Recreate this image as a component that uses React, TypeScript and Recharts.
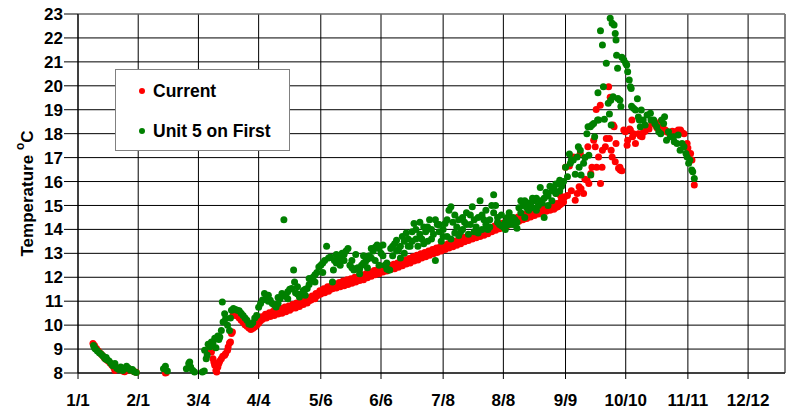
import { ScatterChart, Scatter, XAxis, YAxis, CartesianGrid, Legend, ReferenceLine } from 'recharts';

// x ticks: day of year, labels as printed on the axis
const tickDays = [0, 31, 62, 93, 125, 156, 188, 219, 251, 282, 314, 345];
const tickLabels = ['1/1', '2/1', '3/4', '4/4', '5/6', '6/6', '7/8', '8/8', '9/9', '10/10', '11/11', '12/12'];
const tempTicks = [8, 9, 10, 11, 12, 13, 14, 15, 16, 17, 18, 19, 20, 21, 22, 23];

// "Current" readings  [day, °C]
const currentWinter = [
  [7.7, 9.23], [8.5, 9.15], [9.5, 9.02], [10.5, 8.92], [11.5, 8.82], [12.5, 8.74], [13.5, 8.64], [14.5, 8.56],
  [15.5, 8.5], [16.5, 8.42], [17.5, 8.32], [18.5, 8.22], [19, 8.1], [20, 8.15], [21, 8.2], [22, 8.16], [23, 8.08],
  [24, 8.05], [25, 8.22], [26, 8.18], [27, 8.1], [28, 8.12], [29, 8.05], [30, 8.03], [45, 8.0], [45.5, 8.02],
];

const currentSpring = [
  [67, 8.88], [67.8, 9.09], [68.7, 8.88], [69.5, 8.6], [70, 8.45], [70.4, 8.32], [71, 8.1], [71.4, 8.04], [72, 8.25],
  [72.5, 8.4], [73, 8.5], [73.8, 8.6], [74.5, 8.7], [75.5, 8.74], [76, 8.81], [77, 8.95], [77.3, 9.09], [78, 9.25],
  [78.5, 9.3], [79, 9.65], [79.5, 9.71], [80, 10.45], [81, 10.4], [82, 10.38], [83, 10.3], [84, 10.2], [85, 10.12],
  [86, 10.02], [87, 9.95], [88, 9.88], [89, 9.82], [90, 9.86], [91, 9.92], [92, 10.0], [93, 10.08], [94, 10.18],
  [95, 10.25], [96, 10.32], [97, 10.3], [98, 10.4], [99, 10.36], [100, 10.44], [101, 10.4], [102, 10.5], [103, 10.46],
  [104, 10.55], [105, 10.5], [106, 10.6], [107, 10.56], [108, 10.65], [109, 10.62], [110, 10.7], [111, 10.75],
  [112, 10.72], [113, 10.82], [114, 10.78], [115, 10.88], [116, 10.86], [117, 10.95], [118, 10.92], [119, 11.02],
  [120, 11.05], [121, 11.12], [122, 11.1], [123, 11.22], [124, 11.28], [125, 11.3], [126, 11.38], [127, 11.35],
  [128, 11.45], [129, 11.42], [130, 11.5],
];

const currentSummer = [
  [131, 11.52], [132, 11.58], [133, 11.55], [134, 11.62], [135, 11.6], [136, 11.68], [137, 11.65], [138, 11.72],
  [139, 11.7], [140, 11.78], [141, 11.75], [142, 11.82], [143, 11.8], [144, 11.88], [145, 11.86], [146, 11.92],
  [147, 11.9], [148, 12.0], [149, 11.98], [150, 12.06], [151, 12.04], [152, 12.12], [153, 12.1], [154, 12.18],
  [155, 12.15], [156, 12.24], [157, 12.22], [158, 12.28], [159, 12.26], [160, 12.34], [161, 12.32], [162, 12.38],
  [163, 12.36], [164, 12.45], [165, 12.42], [166, 12.5], [167, 12.48], [168, 12.56], [169, 12.55], [170, 12.62],
  [171, 12.6], [172, 12.7], [173, 12.68], [174, 12.75], [175, 12.72], [176, 12.82], [177, 12.8], [178, 12.88],
  [179, 12.86], [180, 12.94], [181, 12.92], [182, 13.0], [183, 12.98], [184, 13.06], [185, 13.04], [186, 13.12],
  [187, 13.1], [188, 13.18], [189, 13.16], [190, 13.24], [191, 13.22], [192, 13.3], [193, 13.28], [194, 13.36],
  [195, 13.34], [196, 13.43], [197, 13.4], [198, 13.5], [199, 13.48], [200, 13.56], [201, 13.54], [202, 13.62],
  [203, 13.6], [204, 13.67], [205, 13.65], [206, 13.72], [207, 13.7], [208, 13.78], [209, 13.76], [210, 13.84],
  [211, 13.82], [212, 13.92], [213, 13.9], [214, 13.98], [215, 13.96], [216, 14.05], [217, 14.03], [218, 14.1],
  [219, 14.08], [220, 14.17], [221, 14.15], [222, 14.23], [223, 14.22], [224, 14.3], [225, 14.28], [226, 14.36],
  [227, 14.34], [228, 14.42], [229, 14.4], [230, 14.48], [231, 14.46], [232, 14.54], [233, 14.52], [234, 14.6],
  [235, 14.58], [236, 14.66], [237, 14.64], [238, 14.72], [239, 14.7], [240, 14.78], [241, 14.76], [242, 14.82],
  [243, 14.8], [244, 14.86], [244.9, 15.64], [245, 14.84], [246, 14.92], [246.5, 15.5], [247, 14.95], [248, 15.02],
  [248.5, 15.4], [249, 15.08], [250, 15.15],
];

// second reading of the day, upper edge of the red band
const currentUpper = [
  [80.5, 10.55], [82.5, 10.5], [84.5, 10.32], [86.5, 10.14], [88.5, 10.0], [90.5, 9.98], [92.5, 10.12],
  [94.5, 10.35], [96.5, 10.45], [98.5, 10.52], [100.5, 10.58], [102.5, 10.65], [104.5, 10.7], [106.5, 10.76],
  [108.5, 10.8], [110.5, 10.86], [112.5, 10.92], [114.5, 11.0], [116.5, 11.06], [118.5, 11.14], [120.5, 11.22],
  [122.5, 11.32], [124.5, 11.44], [126.5, 11.52], [128.5, 11.6], [130.5, 11.66], [132.5, 11.72], [134.5, 11.78],
  [136.5, 11.84], [138.5, 11.9], [140.5, 11.94], [142.5, 12.0], [144.5, 12.04], [146.5, 12.1], [148.5, 12.16],
  [150.5, 12.22], [152.5, 12.28], [154.5, 12.34], [156.5, 12.4], [158.5, 12.45], [160.5, 12.5], [162.5, 12.54],
  [164.5, 12.6], [166.5, 12.66], [168.5, 12.72], [170.5, 12.78], [172.5, 12.86], [174.5, 12.92], [176.5, 12.98],
  [178.5, 13.04], [180.5, 13.1], [182.5, 13.16], [184.5, 13.22], [186.5, 13.28], [188.5, 13.34], [190.5, 13.4],
  [192.5, 13.46], [194.5, 13.52], [196.5, 13.6], [198.5, 13.66], [200.5, 13.72], [202.5, 13.78], [204.5, 13.84],
  [206.5, 13.9], [208.5, 13.94], [210.5, 14.0], [212.5, 14.08], [214.5, 14.14], [216.5, 14.2], [218.5, 14.26],
  [220.5, 14.32], [222.5, 14.4], [224.5, 14.46], [226.5, 14.52], [228.5, 14.58], [230.5, 14.64], [232.5, 14.7],
  [234.5, 14.76], [236.5, 14.82], [238.5, 14.88], [240.5, 14.94], [242.5, 14.98], [244.5, 15.02], [246.5, 15.08],
  [248.5, 15.16],
];

const currentAutumn = [
  [250.5, 15.35], [251, 16.6], [252, 15.42], [253, 16.65], [254, 15.62], [255, 17.03], [256, 15.22], [257, 15.5],
  [258, 15.78], [258.6, 17.17], [259, 15.7], [260.3, 15.5], [261, 16.1], [262, 16.06], [262.5, 17.45], [263, 15.92],
  [264, 16.34], [264.6, 16.6], [265.5, 17.73], [266.3, 17.45], [266.8, 19.01], [267, 16.6], [268, 17.03],
  [268.9, 19.19], [269, 15.92], [269.8, 16.6], [270, 17.31], [271.5, 17.45], [272, 17.8], [273.2, 19.96],
  [273.6, 17.8], [274, 19.52], [274.5, 17.31], [275, 17.03], [275.5, 18.36], [276, 18.29], [276.6, 16.83],
  [277, 17.59], [278.3, 16.55], [279, 16.6], [279.2, 16.48], [280, 16.45], [281, 18.15], [281.8, 18.08],
  [282.7, 17.52], [283, 17.73], [284, 18.2], [284.4, 18.15], [285.2, 18.57], [285.5, 17.87], [286, 18.0],
  [287, 17.59], [288.6, 18.0], [289.5, 17.9], [290.4, 17.87], [291, 18.05], [292, 18.1], [293, 18.29], [294, 18.2],
  [295.5, 18.5], [296, 18.43], [297.2, 18.36], [298, 18.25], [299.8, 18.5], [300, 18.43], [301, 18.3],
  [302.4, 18.15], [303, 18.08], [304, 18.05], [305, 18.0], [306, 18.1], [307.6, 18.08], [308, 18.05], [309, 18.15],
  [310.2, 18.15], [311, 18.05], [312, 18.0], [313.6, 17.59], [314, 17.4], [315.4, 17.17], [316.1, 16.9],
  [317.3, 15.85],
];

// "Unit 5 on First" readings  [day, °C]
const unit5Winter = [
  [8, 9.15], [8.5, 9.05], [9, 9.0], [10, 8.92], [11, 8.85], [12, 8.78], [13, 8.7], [14, 8.6], [14.5, 8.65],
  [15, 8.55], [16, 8.5], [17, 8.4], [18, 8.3], [19, 8.4], [20, 8.2], [21, 8.15], [22, 8.25], [23, 8.1], [24, 8.18],
  [25, 8.28], [26, 8.2], [27, 8.12], [28, 8.15], [29, 8.05], [30, 8.02], [44, 8.18], [45, 8.28], [46, 8.08],
  [55.8, 8.18], [57, 8.4], [57.5, 8.46], [58, 8.25], [59, 8.11], [60, 8.04],
];

const unit5Spring = [
  [64, 8.04], [65, 8.08], [65.2, 8.95], [66, 8.6], [66.5, 8.75], [67, 9.2], [68, 9.1], [68.7, 9.3], [69.5, 9.25],
  [70.4, 9.45], [71, 9.05], [72, 9.55], [72.5, 9.4], [73, 9.5], [73.8, 9.78], [74.3, 10.97], [74.7, 10.13],
  [75.5, 10.48], [76, 10.27], [77, 9.99], [78, 9.78], [78.5, 10.3], [79, 10.62], [80, 10.7], [81, 10.65],
  [82, 10.62], [83, 10.6], [84, 10.5], [85, 10.4], [86, 10.3], [87, 10.2], [88, 10.05], [89, 10.03], [90, 10.1],
  [91, 10.3], [92, 10.4], [93, 10.75], [94, 10.9], [95, 11.05], [96, 11.32], [97, 11.15], [98, 11.0], [99, 11.04],
  [100, 10.9], [101, 10.85], [102, 10.76], [103, 10.9], [104, 11.1], [105, 11.32], [106, 14.4], [107, 11.2],
  [108, 11.4], [109, 11.5], [110, 11.53], [111, 12.3], [111.5, 11.8], [112, 11.35], [113, 11.3], [114, 11.18],
  [115, 11.3], [116, 11.45], [117, 11.5], [118, 11.53], [119, 11.7], [120, 11.9], [121, 12.0], [122, 12.1],
  [123, 12.2], [124, 12.43], [125, 12.5], [126, 12.6], [127, 12.7], [128, 13.3], [129, 12.8], [130, 12.85],
];

const unit5Summer = [
  [131, 11.8], [132, 12.7], [133, 12.6], [134, 12.75], [135, 12.9], [136, 13.0], [137, 12.95], [138, 13.1],
  [139, 13.2], [140, 12.5], [141, 12.4], [142, 12.3], [143, 12.35], [144, 12.4], [145, 12.35], [146, 12.5],
  [147, 12.6], [148, 12.65], [149, 12.4], [150, 12.9], [151, 12.8], [152, 13.1], [153, 13.25], [154, 13.35],
  [155, 13.2], [156, 13.0], [157, 12.9], [158, 12.5], [159, 12.35], [160, 12.3], [161, 13.2], [162, 13.3],
  [163, 13.4], [164, 13.1], [165, 13.15], [166, 12.8], [167, 13.7], [168, 13.5], [169, 13.85], [170, 13.6],
  [171, 13.3], [172, 13.9], [173, 14.25], [174, 14.0], [175, 13.3], [176, 13.8], [177, 13.6], [178, 14.1],
  [179, 13.9], [180, 13.5], [181, 14.4], [182, 14.0], [183, 13.8], [184, 12.7], [185, 14.2], [186, 13.9],
  [187, 13.5], [188, 14.0], [189, 14.25], [190, 13.7], [191, 14.8], [192, 14.95], [193, 14.3], [194, 13.85],
  [195, 14.1], [196, 14.4], [197, 13.9], [198, 14.5], [199, 14.3], [200, 14.2], [201, 13.8], [202, 14.6],
  [203, 14.95], [204, 14.4], [205, 14.1], [206, 13.85], [207, 15.2], [208, 14.6], [209, 14.4], [210, 14.2],
  [211, 14.0], [212, 14.4], [213, 15.0], [214, 15.45], [215, 15.0], [216, 14.3], [217, 14.2], [218, 14.15],
  [219, 14.1], [220, 14.3], [221, 14.5], [222, 14.2], [223, 14.35], [224, 14.2], [225, 14.4], [226, 14.05],
  [227, 14.9], [228, 15.2], [229, 15.0], [230, 15.2], [231, 14.9], [232, 15.1], [233, 15.05], [234, 14.9],
  [235, 15.2], [236, 15.3], [237, 15.0], [238, 15.75], [239, 15.1], [240, 14.5], [241, 15.55], [242, 15.4],
  [243, 15.8], [244, 15.6], [245, 15.7], [246, 15.5], [247, 15.9], [248, 16.05], [249, 15.8],
];

const unit5Scatter = [
  [98, 11.25], [103, 11.15], [108, 11.1], [113, 11.6], [117, 11.25], [119, 11.95], [122, 11.8], [126, 12.2],
  [131.5, 12.3], [133, 12.95], [135, 12.5], [137, 12.7], [141, 12.7], [143, 12.95], [145, 12.15], [147, 12.9],
  [149, 12.75], [151, 13.2], [153, 12.7], [155, 12.5], [157, 13.35], [159, 12.6], [160.5, 12.3], [162, 12.9],
  [164, 13.55], [166, 13.3], [168, 13.0], [170, 13.3], [172, 13.5], [174, 13.6], [176, 14.3], [178, 13.4],
  [180, 14.1], [182, 13.6], [184, 14.4], [186, 14.2], [188, 13.7], [190, 14.4], [192, 13.6], [194, 14.6],
  [196, 13.75], [198, 14.0], [200, 14.7], [202, 14.2], [204, 13.9], [206, 14.5], [208, 14.0], [210, 14.8],
  [212, 14.1], [214, 14.7], [216, 14.5], [218, 14.6], [220, 14.0], [222, 14.7], [224, 14.5], [226, 14.3],
  [228, 14.7], [230, 14.5], [232, 14.8], [234, 15.3], [236, 14.8], [238, 15.2], [240, 15.3], [242, 15.0],
  [244, 15.2], [246, 15.9], [248, 15.6],
];

const unit5Autumn = [
  [250, 16.0], [251, 16.6], [252, 16.2], [253, 17.15], [253.5, 16.76], [254, 16.9], [255, 16.9], [256, 16.3],
  [257, 17.03], [257.6, 17.45], [258, 16.6], [258.6, 17.31], [259, 16.27], [260.3, 16.76], [261, 17.0], [262, 18.0],
  [262.6, 18.29], [263, 17.1], [263.8, 18.29], [264, 16.27], [264.6, 18.36], [265.5, 18.43], [266, 17.87],
  [267.5, 18.57], [267.7, 19.71], [268, 18.57], [269, 22.3], [270, 21.7], [270.5, 19.96], [271, 18.6],
  [272, 20.94], [273, 19.27], [273.6, 18.82], [274, 22.82], [274.3, 19.4], [274.5, 18.36], [275, 22.61],
  [275.5, 19.54], [276, 22.54], [276.6, 22.19], [277, 21.91], [277.3, 21.28], [277.8, 20.73], [278, 19.47],
  [279, 19.4], [279.5, 19.13], [280, 21.19], [281, 21.08], [282, 20.94], [282.5, 20.87], [283, 20.59],
  [283.8, 20.24], [284.4, 19.96], [284.8, 19.89], [285, 19.15], [286, 19.06], [287, 18.99], [288, 19.46],
  [288.5, 18.7], [289, 18.57], [289.5, 18.29], [290, 18.99], [291, 18.57], [292, 18.36], [293, 18.78],
  [294.7, 18.85], [295, 18.57], [296.4, 18.57], [297, 18.43], [298, 18.29], [299, 18.08], [300, 18.0],
  [300.5, 18.57], [301.5, 18.43], [302, 18.71], [303, 17.73], [304, 18.08], [305, 17.87], [306.6, 17.87],
  [307, 17.66], [308.4, 17.59], [309, 17.94], [310, 17.31], [311, 17.59], [312, 17.45], [313, 17.17],
  [313.6, 17.03], [314.4, 16.76], [315, 16.9], [316, 16.48], [316.5, 16.41], [317.3, 16.13],
];

const toPoints = (...lists: number[][][]) => lists.flat().map(([day, temp]) => ({ day, temp }));

const currentData = toPoints(currentWinter, currentSpring, currentSummer, currentUpper, currentAutumn);
const unit5Data = toPoints(unit5Winter, unit5Spring, unit5Summer, unit5Scatter, unit5Autumn);

const FONT = '"Liberation Sans", Arial, sans-serif';

const dot = (color: string) => (props: any) => (
  <circle cx={props.cx} cy={props.cy} r={3.5} fill={color} />
);

function YTitle(props: any) {
  const vb = props.viewBox || { y: 14, height: 359 };
  const cx = 27;
  const cy = vb.y + vb.height / 2;
  return (
    <text
      x={cx}
      y={cy}
      transform={`rotate(-90, ${cx}, ${cy})`}
      textAnchor="middle"
      dominantBaseline="central"
      fontFamily={FONT}
      fontWeight="bold"
      fontSize={17}
      fill="#000"
    >
      Temperature <tspan fontSize={12} dy={-7}>o</tspan>
      <tspan dy={7}>C</tspan>
    </text>
  );
}

function LegendBox() {
  const row = (color: string, label: string, top: number) => (
    <div style={{ position: 'absolute', left: 0, top, height: 20, width: '100%' }}>
      <span
        style={{
          position: 'absolute', left: 23, top: 7, width: 6, height: 6,
          borderRadius: '50%', background: color,
        }}
      />
      <span
        style={{
          position: 'absolute', left: 37, top: 0, lineHeight: '20px',
          fontFamily: FONT, fontWeight: 'bold', fontSize: 17.5, color: '#000', whiteSpace: 'nowrap',
        }}
      >
        {label}
      </span>
    </div>
  );
  return (
    <div
      style={{
        position: 'relative', width: 175, height: 82, boxSizing: 'border-box',
        border: '1px solid #808080', background: '#fff',
      }}
    >
      {row('#ff0000', 'Current', 11)}
      {row('#008000', 'Unit 5 on First', 51)}
    </div>
  );
}

export default function App() {
  return (
    <div style={{ position: 'absolute', left: 0, top: 0, width: 786, height: 410, background: '#fff' }}>
      <ScatterChart width={786} height={410} margin={{ top: 14, right: 1, bottom: 0, left: 0 }}>
        <CartesianGrid stroke="#000" strokeWidth={1} />
        <XAxis
          type="number"
          dataKey="day"
          domain={[0, 364]}
          ticks={tickDays}
          tickFormatter={(v: number) => tickLabels[tickDays.indexOf(v)] ?? ''}
          height={37}
          tickSize={6}
          tickMargin={15}
          stroke="#000"
          tick={{ fill: '#000', fontSize: 17, fontWeight: 'bold', fontFamily: FONT }}
          interval={0}
        />
        <YAxis
          type="number"
          dataKey="temp"
          domain={[8, 23]}
          ticks={tempTicks}
          width={78}
          tickSize={14}
          tickMargin={1}
          stroke="#000"
          tick={{ fill: '#000', fontSize: 17, fontWeight: 'bold', fontFamily: FONT }}
          interval={0}
          label={<YTitle />}
        />
        <ReferenceLine x={364} stroke="#808080" />
        <ReferenceLine y={23} stroke="#9a9a9a" />
        <Scatter
          name="Current"
          data={currentData}
          fill="#ff0000"
          shape={dot('#ff0000')}
          isAnimationActive={false}
        />
        <Scatter
          name="Unit 5 on First"
          data={unit5Data}
          fill="#008000"
          shape={dot('#008000')}
          isAnimationActive={false}
        />
        <Legend
          layout="vertical"
          align="center"
          verticalAlign="middle"
          content={() => <LegendBox />}
          wrapperStyle={{ position: 'absolute', left: 115, top: 69, width: 175, height: 82 }}
        />
      </ScatterChart>
    </div>
  );
}
